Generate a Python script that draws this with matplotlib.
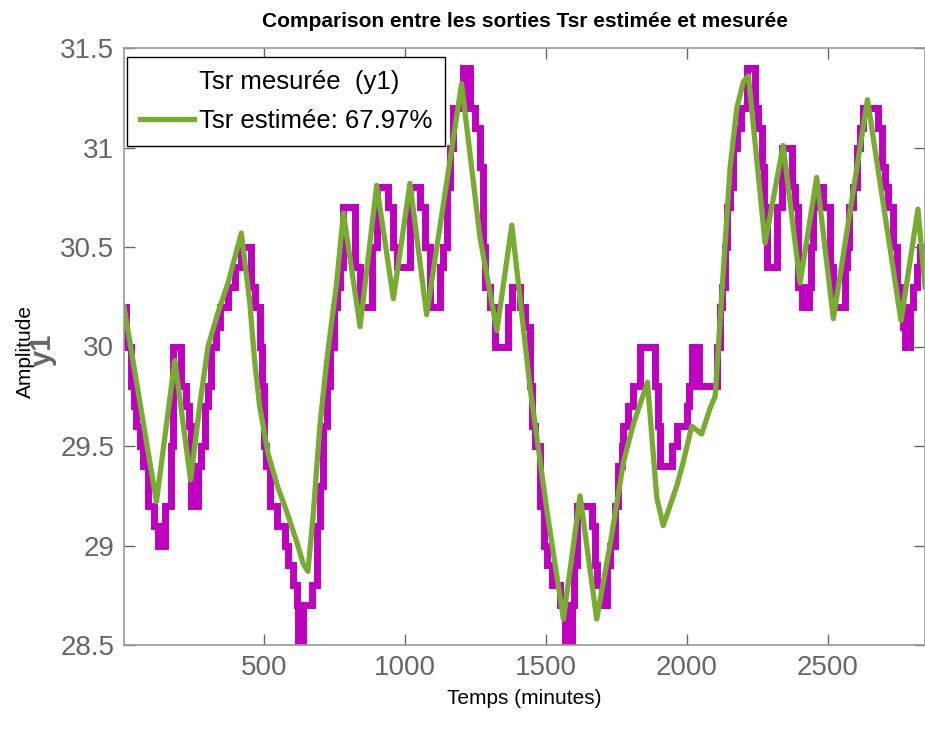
import matplotlib
matplotlib.use("Agg")
import matplotlib.pyplot as plt
from matplotlib.lines import Line2D

# measured temperature (step changes): time [min], value
t_mes = [5, 12, 31, 40, 49, 60, 72, 90, 111, 125, 149, 173, 179, 208, 226, 234, 244,
         267, 279, 293, 303, 315, 332, 344, 374, 397, 421, 456, 468, 486, 494, 501,
         510, 522, 546, 576, 588, 605, 617, 623, 641, 670, 688, 700, 711, 724, 736,
         748, 760, 771, 783, 824, 842, 883, 901, 942, 960, 972, 1019, 1055, 1072,
         1090, 1125, 1137, 1149, 1161, 1173, 1208, 1232, 1250, 1267, 1279, 1285,
         1303, 1320, 1368, 1380, 1409, 1427, 1445, 1451, 1462, 1480, 1495, 1506,
         1522, 1550, 1569, 1592, 1600, 1610, 1663, 1675, 1681, 1699, 1717, 1728,
         1746, 1758, 1770, 1776, 1793, 1811, 1835, 1888, 1900, 1906, 1947, 1965,
         2000, 2008, 2018, 2042, 2107, 2118, 2126, 2136, 2142, 2154, 2166, 2178,
         2194, 2213, 2243, 2254, 2266, 2275, 2284, 2319, 2337, 2373, 2384, 2396,
         2408, 2432, 2440, 2449, 2461, 2485, 2508, 2520, 2562, 2568, 2575, 2588,
         2603, 2615, 2624, 2680, 2692, 2703, 2715, 2733, 2745, 2757, 2766, 2774,
         2792, 2804, 2815, 2827, 2845]
y_mes = [30.2, 30.0, 29.8, 29.7, 29.6, 29.5, 29.4, 29.2, 29.1, 29.0, 29.2, 29.5, 30.0,
         29.8, 29.7, 29.6, 29.2, 29.4, 29.5, 29.7, 29.8, 30.0, 30.1, 30.2, 30.3,
         30.4, 30.5, 30.3, 30.2, 30.0, 29.8, 29.5, 29.4, 29.2, 29.1, 29.0, 28.9,
         28.8, 28.7, 28.5, 28.7, 28.8, 29.1, 29.3, 29.6, 29.8, 30.0, 30.2, 30.3,
         30.4, 30.7, 30.4, 30.2, 30.5, 30.8, 30.7, 30.5, 30.4, 30.8, 30.7, 30.5,
         30.2, 30.4, 30.5, 30.8, 31.0, 31.2, 31.4, 31.2, 31.1, 30.9, 30.5, 30.3,
         30.2, 30.0, 30.2, 30.3, 30.2, 30.1, 29.8, 29.6, 29.5, 29.2, 29.0, 28.9,
         28.8, 28.7, 28.5, 28.7, 28.9, 29.2, 29.1, 28.9, 28.8, 28.7, 28.9, 29.0,
         29.2, 29.4, 29.5, 29.6, 29.7, 29.8, 30.0, 29.8, 29.6, 29.4, 29.5, 29.6,
         29.7, 29.8, 30.0, 29.8, 30.0, 30.2, 30.3, 30.5, 30.7, 30.8, 31.0, 31.1,
         31.2, 31.4, 31.2, 31.1, 30.9, 30.7, 30.4, 30.7, 31.0, 30.8, 30.7, 30.3,
         30.2, 30.3, 30.5, 30.7, 30.8, 30.7, 30.4, 30.2, 30.4, 30.5, 30.7, 30.8,
         31.0, 31.1, 31.2, 31.1, 30.9, 30.8, 30.7, 30.5, 30.3, 30.2, 30.1, 30.0,
         30.2, 30.3, 30.4, 30.5, 30.5]

# estimated model output
t_est = [5, 120, 185, 241, 275, 303, 338, 374, 421, 451, 468, 486, 516, 551, 582, 617,
         640, 657, 675, 700, 724, 759, 783, 842, 901, 960, 1019, 1078, 1202, 1267,
         1327, 1380, 1445, 1504, 1563, 1622, 1681, 1728, 1776, 1811, 1861, 1894,
         1917, 1941, 1965, 1988, 2018, 2053, 2083, 2101, 2118, 2136, 2154, 2178,
         2201, 2219, 2278, 2342, 2402, 2461, 2520, 2641, 2760, 2820, 2845]
y_est = [30.2, 29.22, 29.93, 29.33, 29.72, 30.0, 30.17, 30.32, 30.57, 30.22, 29.93,
         29.7, 29.46, 29.29, 29.17, 29.02, 28.91, 28.87, 29.14, 29.61, 29.93, 30.32,
         30.67, 30.1, 30.81, 30.24, 30.82, 30.16, 31.32, 30.55, 30.08, 30.61, 29.79,
         29.18, 28.63, 29.25, 28.63, 29.0, 29.42, 29.61, 29.82, 29.24, 29.1, 29.2,
         29.3, 29.42, 29.6, 29.56, 29.69, 29.75, 30.12, 30.51, 30.9, 31.2, 31.33,
         31.36, 30.52, 31.01, 30.32, 30.85, 30.14, 31.24, 30.13, 30.69, 30.3]

xticks = [500, 1000, 1500, 2000, 2500]
yticks = [28.5, 29, 29.5, 30, 30.5, 31, 31.5]
ytick_labels = ["28.5", "29", "29.5", "30", "30.5", "31", "31.5"]

fig = plt.figure(figsize=(9.25, 7.31), dpi=100)
ax = fig.add_axes([124/925, 1 - 645/731, 801/925, 597/731])

ax.plot(t_mes, y_mes, drawstyle="steps-post", color="#C000C0", lw=5, solid_joinstyle="miter")
green, = ax.plot(t_est, y_est, color="#77AC30", lw=3.8)

ax.set_xlim(5, 2845)
ax.set_ylim(28.5, 31.5)
ax.set_xticks(xticks)
ax.set_yticks(yticks)
ax.set_yticklabels(ytick_labels)
for lab in ax.get_xticklabels() + ax.get_yticklabels():
    lab.set_family("Liberation Sans")
    lab.set_fontsize(20)
    lab.set_color("#666666")
ax.tick_params(direction="in", length=8, width=1, color="#666666", top=True, right=True, pad=7)
for s in ax.spines.values():
    s.set_color("#9a9a9a")
    s.set_linewidth(1.2)

ax.set_title("Comparison entre les sorties Tsr estimée et mesurée", fontsize=15,
             fontweight="bold", family="Liberation Sans", pad=15)
ax.set_xlabel("Temps (minutes)", fontsize=15, family="Liberation Sans", labelpad=6)

fig.text(25/925, 1 - 352/731, "Amplitude", rotation=90, ha="center", va="center", fontsize=15,
         family="Liberation Sans")
fig.text(43/925, 1 - 350/731, "y1", rotation=90, ha="center", va="center", fontsize=21,
         fontweight="bold", color="#666666", family="Liberation Sans")

blank = Line2D([], [], color="none")
leg = ax.legend([blank, green], ["Tsr mesurée  (y1)", "Tsr estimée: 67.97%"],
                loc="upper left", bbox_to_anchor=(0.004, 0.985), borderaxespad=0,
                fancybox=False, edgecolor="black", framealpha=1,
                prop={"family": "Liberation Sans", "size": 18.5}, handlelength=2.1,
                handletextpad=0.2, borderpad=0.5, labelspacing=0.6)
leg.get_frame().set_linewidth(1.0)

fig.savefig("out.png", dpi=100)
